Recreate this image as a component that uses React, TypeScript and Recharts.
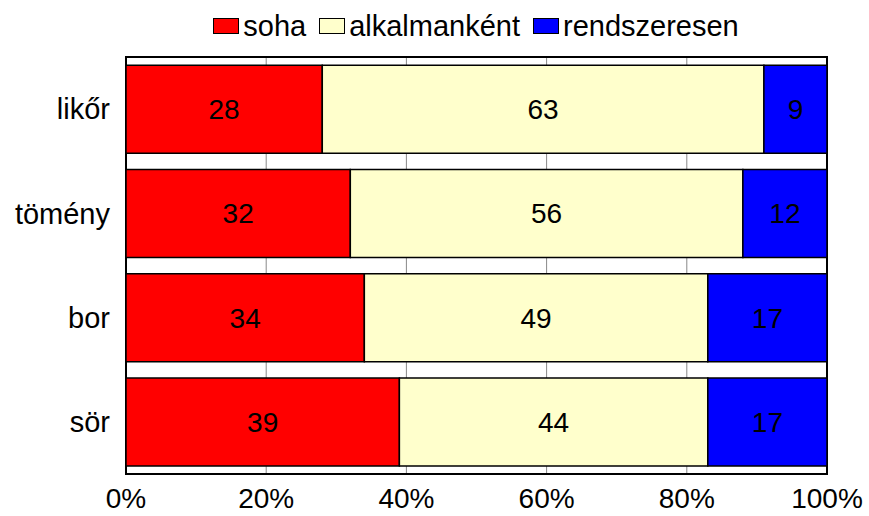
import { BarChart, Bar, XAxis, YAxis, CartesianGrid, LabelList, ReferenceArea } from 'recharts';

// drinks, top to bottom
const categories = ['likőr', 'tömény', 'bor', 'sör'];
const soha = [28, 32, 34, 39];
const alkalmankent = [63, 56, 49, 44];
const rendszeresen = [9, 12, 17, 17];
const xTicks = [0, 20, 40, 60, 80, 100];

const series = [
    { key: 'soha', name: 'soha', color: '#FF0000' },
    { key: 'alkalmankent', name: 'alkalmanként', color: '#FFFFCC' },
    { key: 'rendszeresen', name: 'rendszeresen', color: '#0000FF' },
];

const data = categories.map((name, i) => ({
    name,
    soha: soha[i],
    alkalmankent: alkalmankent[i],
    rendszeresen: rendszeresen[i],
}));

const FONT = '"Liberation Sans", Arial, sans-serif';

export default function App() {
    return (
        <div style={{ position: 'absolute', left: 0, top: 0, width: 869, height: 516, background: '#fff', fontFamily: FONT }}>
            <div
                style={{
                    position: 'absolute',
                    top: 8,
                    left: 126 + 6,
                    width: 701,
                    display: 'flex',
                    justifyContent: 'center',
                    alignItems: 'center',
                    fontSize: 29,
                    lineHeight: '36px',
                    color: '#000',
                }}
            >
                {series.map((s) => (
                    <div key={s.key} style={{ display: 'flex', alignItems: 'center', marginRight: 13 }}>
                        <span
                            style={{
                                display: 'inline-block',
                                width: 24,
                                height: 14,
                                background: s.color,
                                border: '1px solid #000',
                                marginRight: 4,
                            }}
                        />
                        <span>{s.name}</span>
                    </div>
                ))}
            </div>
            <BarChart
                width={869}
                height={516}
                data={data}
                layout="vertical"
                margin={{ top: 57, right: 42, left: 0, bottom: 0 }}
                barCategoryGap="7.8%"
                style={{ fontFamily: FONT }}
            >
                <CartesianGrid horizontal={false} stroke="#888" strokeWidth={1} />
                <XAxis
                    type="number"
                    domain={[0, 100]}
                    ticks={xTicks}
                    tickFormatter={(v) => `${v}%`}
                    height={42}
                    tickLine={false}
                    axisLine={false}
                    tickSize={0}
                    tickMargin={14}
                    tick={{ fill: '#000', fontSize: 28 }}
                    interval={0}
                />
                <YAxis
                    type="category"
                    dataKey="name"
                    width={126}
                    tickLine={false}
                    axisLine={false}
                    tickSize={0}
                    tickMargin={16}
                    tick={{ fill: '#000', fontSize: 29 }}
                />
                {series.map((s) => (
                    <Bar
                        key={s.key}
                        dataKey={s.key}
                        name={s.name}
                        stackId="a"
                        fill={s.color}
                        stroke="#000"
                        strokeWidth={1.5}
                        isAnimationActive={false}
                    >
                        <LabelList dataKey={s.key} position="center" fill="#000" fontSize={28} />
                    </Bar>
                ))}
                <ReferenceArea x1={0} x2={100} fill="none" stroke="#000" strokeWidth={2} fillOpacity={0} />
            </BarChart>
        </div>
    );
}
